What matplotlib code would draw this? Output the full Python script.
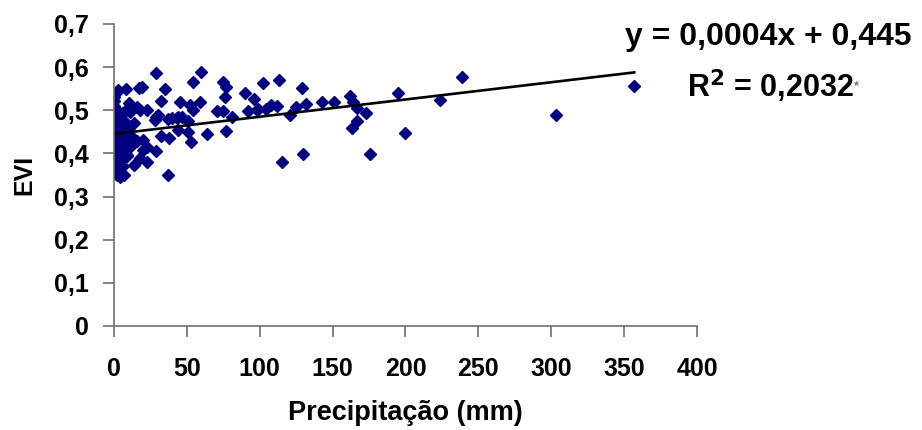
import matplotlib
matplotlib.use("Agg")
import matplotlib.pyplot as plt
from matplotlib.ticker import FuncFormatter

plt.rcParams['font.family'] = ['Liberation Sans', 'DejaVu Sans']
plt.rcParams['font.weight'] = 'bold'

# Precipitation (mm) and EVI values
precip = [357, 303, 239, 224, 195, 200, 176, 162, 164, 167, 173, 167, 163, 151, 143, 132, 129, 130,
          29, 60, 54, 75, 77, 76, 90, 102, 113, 96, 3, 8, 17, 19, 35, 0, 32, 45, 52, 59, 54, 10,
          8, 16, 18, 23, 71, 75, 81, 92, 99, 104, 108, 112, 121, 125, 30, 28, 37, 43, 47, 51,
          44, 51, 64, 77, 32, 38, 53, 16, 20, 23, 20, 29, 9, 18, 23, 14, 37, 115, 98, 40, 44,
          3, 1, 6, 11, 29, 1, 8, 14, 1, 6, 1, 8, 14, 1, 9, 1, 1, 4,
          0, 2, 0, 3, 2, 0, 3, 5, 0, 2, 4, 0, 5, 3, 6, 2, 0, 4, 7, 10, 12, 11, 5, 7, 2, 0, 3, 0]
evi = [0.557, 0.490, 0.578, 0.524, 0.540, 0.448, 0.399, 0.534, 0.520, 0.505, 0.494, 0.476, 0.459,
       0.520, 0.520, 0.515, 0.552, 0.399,
       0.587, 0.589, 0.566, 0.566, 0.555, 0.531, 0.540, 0.564, 0.571, 0.527, 0.545, 0.549, 0.552,
       0.555, 0.550, 0.522, 0.522, 0.520, 0.513, 0.520, 0.500, 0.517, 0.500, 0.508, 0.500, 0.500,
       0.498, 0.498, 0.485, 0.498, 0.503, 0.503, 0.513, 0.510, 0.490, 0.508, 0.490, 0.478, 0.480,
       0.483, 0.485, 0.476, 0.455, 0.450, 0.445, 0.452, 0.441, 0.436, 0.427, 0.429, 0.431, 0.415,
       0.408, 0.406, 0.394, 0.390, 0.380, 0.373, 0.350, 0.380, 0.500, 0.482, 0.485,
       0.547, 0.494, 0.494, 0.496, 0.485, 0.471, 0.471, 0.471, 0.448, 0.448, 0.427, 0.431, 0.427,
       0.403, 0.397, 0.380, 0.362, 0.346,
       0.51, 0.46, 0.44, 0.42, 0.39, 0.37, 0.36, 0.355, 0.355, 0.50, 0.48, 0.46, 0.41, 0.44, 0.37,
       0.415, 0.485, 0.465, 0.455, 0.46, 0.44, 0.415, 0.385, 0.35, 0.35, 0.40, 0.475, 0.53]

# trend line y = 0,0004x + 0,445
slope = 0.0004
intercept = 0.445
x_line = [0, 357]
y_line = [intercept + slope * v for v in x_line]

fig = plt.figure(figsize=(9.22, 4.30), dpi=100)
ax = fig.add_axes([0.1236, 0.2419, 0.6323, 0.7023])

ax.plot(precip, evi, linestyle='none', marker='D', markersize=6.5,
        color='#000080', markeredgecolor='#000080')
ax.plot(x_line, y_line, color='black', linewidth=1.9)

ax.set_xlim(0, 400)
ax.set_ylim(0, 0.7)
ax.set_xticks(range(0, 401, 50))
ax.set_yticks([i / 10 for i in range(8)])
ax.yaxis.set_major_formatter(FuncFormatter(lambda v, p: ('%.1f' % v).replace('.', ',') if v else '0'))

for s in ['top', 'right']:
    ax.spines[s].set_visible(False)
for s in ['left', 'bottom']:
    ax.spines[s].set_color('#707070')
    ax.spines[s].set_linewidth(1.2)
ax.tick_params(direction='out', length=8, width=1.2, color='#707070', labelsize=18)
ax.tick_params(axis='y', pad=10)
ax.tick_params(axis='x', pad=14)

ax.set_xlabel('Precipitação (mm)', fontsize=19.5, fontweight='bold', labelpad=14)
ax.set_ylabel('EVI', fontsize=18, fontweight='bold', labelpad=13)

fig.text(0.989, 0.914, 'y = 0,0004x + 0,445', ha='right', va='center', fontsize=23, fontweight='bold')
fig.text(0.745, 0.80, 'R$^\\mathbf{2}$ = 0,2032', ha='left', va='center', fontsize=22, fontweight='bold')
fig.text(0.926, 0.80, '*', ha='left', va='center', fontsize=9, color='#777777')

fig.savefig('out.png', dpi=100)
